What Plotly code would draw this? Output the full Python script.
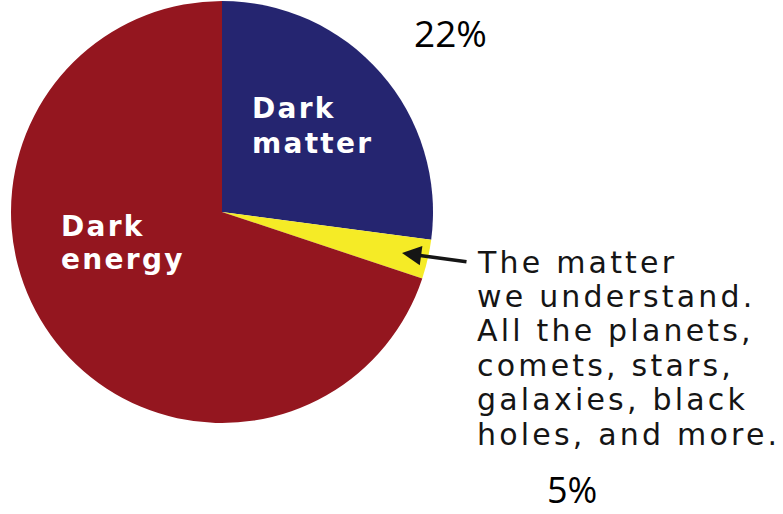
import plotly.graph_objects as go

W, H = 783, 514

# Data (slice shares as drawn, clockwise from 12 o'clock)
slice_names = ["Dark matter", "Ordinary matter", "Dark energy"]
slice_values = [27.1, 3.0, 69.9]
slice_colors = ["#252570", "#f5eb26", "#94161f"]

# Text
percent_labels = ["22%", "5%"]
dark_matter_lines = ["Dark", "matter"]
dark_energy_lines = ["Dark", "energy"]
callout_lines = ["The matter", "we understand.", "All the planets,",
                 "comets, stars,", "galaxies, black", "holes, and more."]


def px(x):
    return x / W


def py(y):
    return 1 - y / H


cx, cy, r = 222, 212, 211

fig = go.Figure(go.Pie(
    labels=slice_names,
    values=slice_values,
    sort=False,
    direction="clockwise",
    rotation=0,
    marker=dict(colors=slice_colors, line=dict(width=0)),
    textinfo="none",
    hoverinfo="skip",
    showlegend=False,
    domain=dict(x=[px(cx - r), px(cx + r)], y=[py(cy + r), py(cy - r)]),
))

annotations = []


def add_lines(lines, x0, y0, step, font, spacing, bold=False):
    for i, t in enumerate(lines):
        txt = f"<span style='letter-spacing:{spacing}px'>{t}</span>"
        if bold:
            txt = f"<b>{txt}</b>"
        annotations.append(dict(
            text=txt, x=px(x0), y=py(y0 + i * step),
            xanchor="left", yanchor="middle", align="left",
            showarrow=False, font=font, borderpad=0))


label_font = dict(family="DejaVu Sans", size=28, color="white")
add_lines(dark_matter_lines, 251, 108, 35, label_font, 2.3, bold=True)
add_lines(dark_energy_lines, 60, 226, 33, label_font, 2.3, bold=True)

callout_font = dict(family="DejaVu Sans", size=30, color="#151515")
add_lines(callout_lines, 476, 262, 34.4, callout_font, 3.2)

annotations += [
    dict(text=percent_labels[0], x=px(450), y=py(32), showarrow=False,
         xanchor="center", yanchor="middle", borderpad=0,
         font=dict(family="Open Sans", size=37, color="black")),
    dict(text=percent_labels[1], x=px(572), y=py(489), showarrow=False,
         xanchor="center", yanchor="middle", borderpad=0,
         font=dict(family="Open Sans", size=36, color="black")),
    dict(text="", x=px(402), y=py(253), xref="paper", yref="paper",
         ax=468 - 402, ay=262 - 253, showarrow=True, arrowhead=2,
         arrowsize=1.1, arrowwidth=3.5, arrowcolor="#151515"),
]

fig.update_layout(
    width=W, height=H,
    margin=dict(l=0, r=0, t=0, b=0),
    paper_bgcolor="white", plot_bgcolor="white",
    annotations=annotations,
)

fig.write_html("out.html", config={"displayModeBar": False},
               post_script="document.body.style.margin='0';")
